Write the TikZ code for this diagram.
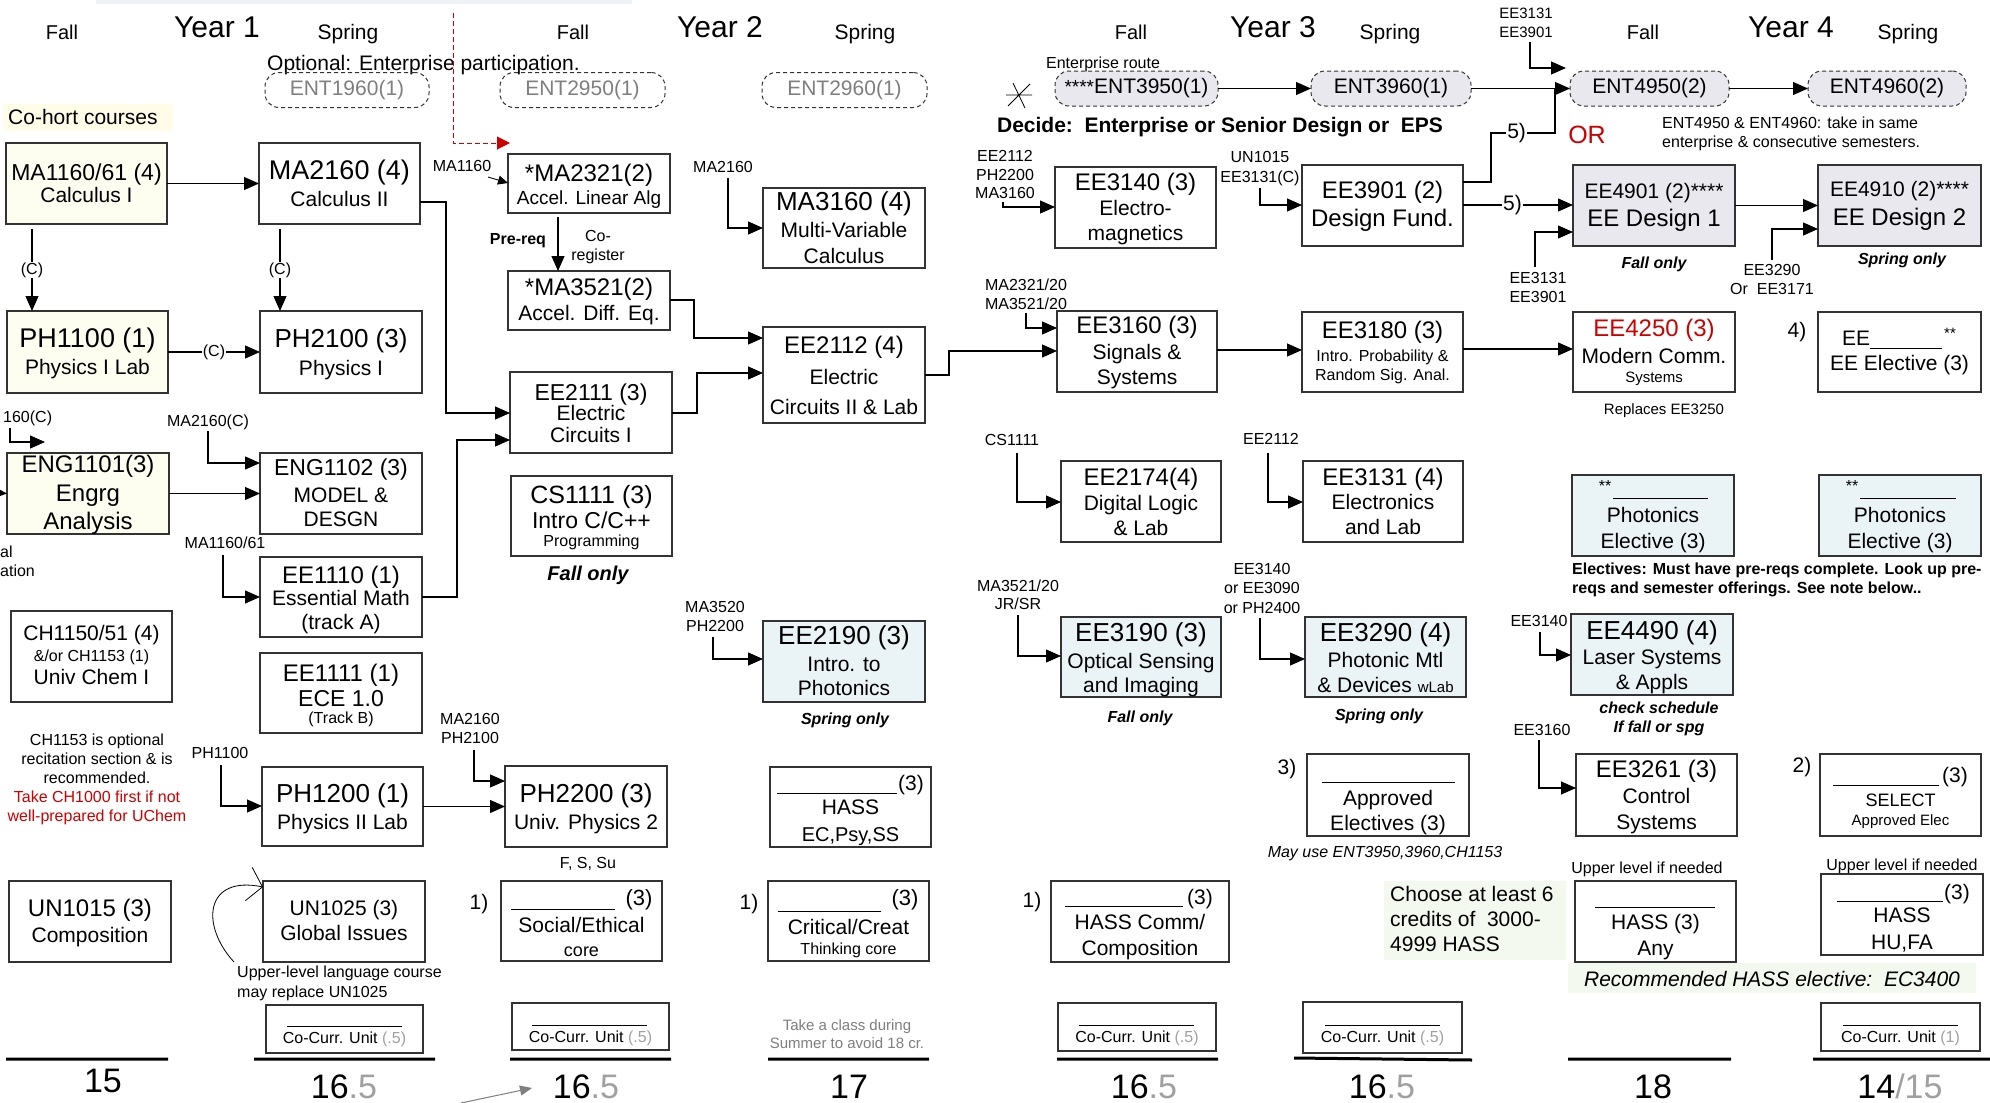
\documentclass[tikz,border=0pt]{standalone}
\usepackage{fontspec}
\setmainfont{Liberation Sans}
\usetikzlibrary{arrows.meta,calc}
\definecolor{cream}{HTML}{FEFEF0}
\definecolor{lblue}{HTML}{EAF3F6}
\definecolor{lav}{HTML}{E9E8EF}
\definecolor{lgreen}{HTML}{F3F9EE}
\definecolor{cohort}{HTML}{FFFDE8}
\definecolor{myred}{HTML}{CC0000}
\definecolor{gtext}{HTML}{7F7F7F}
\definecolor{lgray}{HTML}{A0A0A0}
\definecolor{boxline}{HTML}{333333}
\definecolor{topbar}{HTML}{EEF2F7}
\newcounter{tn}
\newcommand\T[5][]{\stepcounter{tn}\edef\tname{t\arabic{tn}}\node[anchor=base,inner sep=0pt,#1] (\tname) at (#2,{#3+0.358*#4}) {\fontsize{#4}{#4}\selectfont #5};}
\newcommand\B[6][]{\node[box,minimum width={(#5-#3)*1pt},minimum height={(#6-#4)*1pt},#1] (#2) at ({(#3+#5)/2},{(#4+#6)/2}) {};}
\tikzset{
 box/.style={draw=boxline,line width=1.2pt,inner sep=0pt,outer sep=0pt,fill=white},
 ent/.style={draw=boxline,dash pattern=on 4pt off 3pt,line width=1pt,rounded corners=14pt,inner sep=0pt,outer sep=0pt,minimum height=35pt,font=\fontsize{21}{21}\selectfont},
 arr/.style={-{Triangle[length=15pt,width=13pt]},line width=1.1pt},
 sarr/.style={-{Triangle[length=10pt,width=9pt]},line width=0.9pt},
 ln/.style={line width=1.1pt},
 uln/.style={line width=1pt},
 tot/.style={line width=3pt},
 cl/.style={fill=white,inner sep=1pt,font=\fontsize{16}{16}\selectfont},
 bi/.style={font=\bfseries\itshape}
}
\begin{document}
\begin{tikzpicture}[x=1pt,y=-1pt]
\useasboundingbox (0,0) rectangle (1990,1103);
\fill[white] (0,0) rectangle (1990,1103);
\fill[topbar] (96,0) rectangle (632,4);
% headers
\T{62}{32}{20}{Fall}\T{217}{27}{30}{Year 1}\T{348}{32}{21}{Spring}
\T{573}{32}{20}{Fall}\T{720}{27}{30}{Year 2}\T{865}{32}{21}{Spring}
\T{1131}{32}{20}{Fall}\T{1273}{27}{30}{Year 3}\T{1390}{32}{21}{Spring}
\T{1643}{32}{20}{Fall}\T{1791}{27}{30}{Year 4}\T{1908}{32}{21}{Spring}
\T[anchor=base west]{267}{63}{21}{Optional: Enterprise participation.}
\fill[cohort] (3,104) rectangle (173,131);
\T[anchor=base west]{8}{117}{21}{Co-hort courses}
% enterprise
\node[ent,minimum width=164pt,text=gtext] (ENT1960) at (347,90) {ENT1960(1)};
\node[ent,minimum width=165pt,text=gtext] (ENT2950) at (582.5,90) {ENT2950(1)};
\node[ent,minimum width=165pt,text=gtext] (ENT2960) at (844.5,90) {ENT2960(1)};
\node[ent,minimum width=163pt,fill=lav] (ENT3950) at (1136.5,88.5) {{\fontsize{19}{19}\selectfont ****}ENT3950(1)};
\node[ent,minimum width=160pt,fill=lav] (ENT3960) at (1391,88.5) {ENT3960(1)};
\node[ent,minimum width=159pt,fill=lav] (ENT4950) at (1649.5,88.5) {ENT4950(2)};
\node[ent,minimum width=158pt,fill=lav] (ENT4960) at (1887,88.5) {ENT4960(2)};
\T{1103}{63}{16}{Enterprise route}
\draw[line width=0.8pt] (1006,95)--(1032,95) (1008,106)--(1030,84) (1013,83)--(1025,108);
\T[font=\bfseries]{1220}{125}{21}{Decide:\ \ Enterprise or Senior Design or\ \ EPS}
\T[text=myred]{1587}{135}{25}{OR}
\T[anchor=base west]{1662}{123}{16}{ENT4950 \& ENT4960: take in same}
\T[anchor=base west]{1662}{142}{16}{enterprise \& consecutive semesters.}
% ---- Year 1 Fall
\B[fill=cream]{MA1160}{6}{143}{167}{224}
\T{86.5}{172}{23}{MA1160/61 (4)}\T{86.5}{195}{21}{Calculus I}
\B[fill=cream]{PH1100}{7}{311}{168}{393}
\T{87.5}{338}{27}{PH1100 (1)}\T{87.5}{367}{21}{Physics I Lab}
\B[fill=cream]{ENG1101}{7}{453}{169}{534}
\T{88}{464}{24}{ENG1101(3)}\T{88}{493}{24}{Engrg}\T{88}{521}{24}{Analysis}
\B{CH1150}{11}{611}{172}{702}
\T{91.5}{633}{21}{CH1150/51 (4)}\T{91.5}{656}{16}{\&/or CH1153 (1)}\T{91.5}{677}{21}{Univ Chem I}
\B{UN1015}{9}{881}{171}{962}
\T{90}{908}{24}{UN1015 (3)}\T{90}{935}{21}{Composition}
\T[anchor=base west]{3}{417}{16}{160(C)}
\T[anchor=base west]{0}{552}{16}{al}
\T[anchor=base west]{0}{571}{16}{ation}
\T{97}{740}{16}{CH1153 is optional}
\T{97}{759}{16}{recitation section \& is}
\T{97}{778}{16}{recommended.}
\T[text=myred]{97}{797}{16}{Take CH1000 first if not}
\T[text=myred]{97}{816}{16}{well-prepared for UChem}
% ---- Year 1 Spring
\B{MA2160}{259}{143}{420}{224}
\T{339.5}{170}{27}{MA2160 (4)}\T{339.5}{199}{21}{Calculus II}
\B{PH2100}{260}{311}{422}{393}
\T{341}{338}{26}{PH2100 (3)}\T{341}{368}{21}{Physics I}
\B{ENG1102}{260}{453}{422}{534}
\T{341}{467}{23}{ENG1102 (3)}\T{341}{495}{21}{MODEL \&}\T{341}{519}{21}{DESGN}
\B{EE1110}{260}{557}{422}{637}
\T{341}{575}{24}{EE1110 (1)}\T{341}{598}{21}{Essential Math}\T{341}{622}{21}{(track A)}
\B{EE1111}{260}{653}{422}{733}
\T{341}{673}{24}{EE1111 (1)}\T{341}{698}{23}{ECE 1.0}\T{341}{718}{16}{(Track B)}
\B{PH1200}{262}{767}{423}{846}
\T{342.5}{793}{26}{PH1200 (1)}\T{342.5}{822}{21}{Physics II Lab}
\B{UN1025}{263}{881}{425}{962}
\T{344}{908}{21}{UN1025 (3)}\T{344}{933}{21}{Global Issues}
\T[anchor=base west]{237}{972}{16}{Upper-level language course}
\T[anchor=base west]{237}{992}{16}{may replace UN1025}
\B{CC2}{266}{1005}{423}{1053}
\draw[uln] (287,1026)--(402,1026);
\T{344.5}{1038}{16}{Co-Curr. Unit {\color{lgray}(.5)}}
\T{220}{753}{16}{PH1100}
\T{208}{421}{16}{MA2160(C)}
\T{225}{543}{16}{MA1160/61}
% ---- Year 2 Fall
\B{MA2321}{508}{154}{670}{213}
\T{589}{173}{24}{*MA2321(2)}\T{589}{198}{19}{Accel. Linear Alg}
\B{MA3521}{508}{271}{670}{330}
\T{589}{287}{24}{*MA3521(2)}\T{589}{313}{21}{Accel. Diff. Eq.}
\B{EE2111}{510}{372}{672}{453}
\T{591}{392}{23}{EE2111 (3)}\T{591}{413}{21}{Electric}\T{591}{435}{21}{Circuits I}
\B{CS1111}{511}{476}{672}{556}
\T{591.5}{495}{25}{CS1111 (3)}\T{591.5}{520}{23}{Intro C/C++}\T{591.5}{541}{16}{Programming}
\T[bi]{588}{573}{20}{Fall only}
\B{PH2200}{505}{766}{667}{847}
\T{586}{793}{26}{PH2200 (3)}\T{586}{822}{21}{Univ. Physics 2}
\T{588}{863}{16}{F, S, Su}
\B{SocEth}{501}{881}{662}{961}
\draw[uln] (511,909)--(615,909);
\T{639}{898}{22}{(3)}\T{581.5}{925}{21}{Social/Ethical}\T{581.5}{950}{18}{core}
\T{479}{902}{21}{1)}
\B{CC3}{512}{1003}{669}{1050}
\draw[uln] (532,1025)--(647,1025);
\T{590.5}{1037}{16}{Co-Curr. Unit {\color{lgray}(.5)}}
\T{462}{166}{16}{MA1160}
\T[font=\bfseries]{518}{239}{16}{Pre-req}
\T{598}{236}{16}{Co-}\T{598}{255}{16}{register}
\T{470}{719}{16}{MA2160}\T{470}{738}{16}{PH2100}
% ---- Year 2 Spring
\B{MA3160}{763}{188}{925}{268}
\T{844}{201}{26}{MA3160 (4)}\T{844}{230}{21}{Multi-Variable}\T{844}{256}{21}{Calculus}
\B{EE2112}{763}{327}{925}{423}
\T{844}{345}{24}{EE2112 (4)}\T{844}{377}{21}{Electric}\T{844}{407}{21}{Circuits II \& Lab}
\B[fill=lblue]{EE2190}{763}{621}{925}{702}
\T{844}{635}{26}{EE2190 (3)}\T{844}{664}{21}{Intro. to}\T{844}{688}{21}{Photonics}
\T[bi]{845}{719}{16}{Spring only}
\B{HASS1}{770}{767}{931}{847}
\draw[uln] (777,793)--(897,793);
\T{911}{783}{21}{(3)}\T{850.5}{807}{21}{HASS}\T{850.5}{834}{20}{EC,Psy,SS}
\B{CritCr}{768}{881}{929}{961}
\draw[uln] (778,911)--(881,911);
\T{905}{898}{22}{(3)}\T{848.5}{927}{21}{Critical/Creat}\T{848.5}{949}{16}{Thinking core}
\T{749}{902}{21}{1)}
\T[text=gtext]{847}{1025}{15}{Take a class during}
\T[text=gtext]{847}{1043}{15}{Summer to avoid 18 cr.}
\T{723}{167}{16}{MA2160}
\T{715}{607}{16}{MA3520}\T{715}{626}{16}{PH2200}
% ---- Year 3 Fall
\B{EE3140}{1055}{167}{1216}{248}
\T{1135.5}{182}{24}{EE3140 (3)}\T{1135.5}{208}{21}{Electro-}\T{1135.5}{233}{21}{magnetics}
\B{EE3160}{1057}{311}{1217}{392}
\T{1137}{325}{24}{EE3160 (3)}\T{1137}{352}{21}{Signals \&}\T{1137}{377}{21}{Systems}
\B{EE2174}{1061}{461}{1221}{542}
\T{1141}{477}{24}{EE2174(4)}\T{1141}{503}{21}{Digital Logic}\T{1141}{528}{21}{\& Lab}
\B[fill=lblue]{EE3190}{1061}{617}{1221}{697}
\T{1141}{632}{26}{EE3190 (3)}\T{1141}{661}{21}{Optical Sensing}\T{1141}{685}{21}{and Imaging}
\T[bi]{1140}{717}{16}{Fall only}
\B{HASSC}{1051}{881}{1229}{962}
\draw[uln] (1065,906)--(1183,906);
\T{1200}{897}{21}{(3)}\T{1140}{922}{21}{HASS Comm/}\T{1140}{948}{21}{Composition}
\T{1032}{900}{21}{1)}
\B{CC5}{1058}{1003}{1216}{1051}
\draw[uln] (1079,1025)--(1194,1025);
\T{1137}{1037}{16}{Co-Curr. Unit {\color{lgray}(.5)}}
\T{1005}{156}{16}{EE2112}\T{1005}{175}{16}{PH2200}\T{1005}{193}{16}{MA3160}
\T{1026}{285}{16}{MA2321/20}\T{1026}{304}{16}{MA3521/20}
\T{1012}{440}{16}{CS1111}
\T{1018}{586}{16}{MA3521/20}\T{1018}{604}{16}{JR/SR}
% ---- Year 3 Spring
\B{EE3901}{1302}{165}{1463}{246}
\T{1382.5}{190}{24}{EE3901 (2)}\T{1382.5}{218}{24}{Design Fund.}
\B{EE3180}{1302}{312}{1463}{392}
\T{1382.5}{330}{24}{EE3180 (3)}\T{1382.5}{356}{16}{Intro. Probability \&}\T{1382.5}{375}{16}{Random Sig. Anal.}
\B{EE3131}{1303}{461}{1463}{542}
\T{1383}{477}{24}{EE3131 (4)}\T{1383}{502}{21}{Electronics}\T{1383}{527}{21}{and Lab}
\B[fill=lblue]{EE3290}{1305}{617}{1466}{697}
\T{1385.5}{632}{26}{EE3290 (4)}\T{1385.5}{660}{21}{Photonic Mtl}\T{1385.5}{685}{21}{\& Devices {\fontsize{15}{15}\selectfont wLab}}
\T[bi]{1379}{715}{16}{Spring only}
\B{Approved}{1307}{754}{1469}{836}
\draw[uln] (1322,782)--(1455,782);
\T{1388}{798}{21}{Approved}\T{1388}{823}{21}{Electives (3)}
\T{1287}{767}{21}{3)}
\T[font=\itshape]{1385}{852}{16}{May use ENT3950,3960,CH1153}
\fill[lgreen] (1384,881) rectangle (1566,960);
\T[anchor=base west]{1390}{894}{21}{Choose at least 6}
\T[anchor=base west]{1390}{919}{21}{credits of\ \ 3000-}
\T[anchor=base west]{1390}{944}{21}{4999 HASS}
\B{CC6}{1303}{1002}{1462}{1053}
\draw[uln] (1325,1025)--(1440,1025);
\T{1382.5}{1037}{16}{Co-Curr. Unit {\color{lgray}(.5)}}
\T{1260}{157}{16}{UN1015}\T{1260}{177}{16}{EE3131(C)}
\T{1271}{439}{16}{EE2112}
\T{1262}{569}{16}{EE3140}\T{1262}{588}{16}{or EE3090}\T{1262}{608}{16}{or PH2400}
% ---- Year 4 Fall
\B[fill=lav]{EE4901}{1573}{165}{1735}{246}
\T{1654}{191}{21}{EE4901 (2)****}\T{1654}{218}{24}{EE Design 1}
\T[bi]{1654}{263}{16}{Fall only}
\B{EE4250}{1573}{312}{1735}{392}
\T[text=myred]{1654}{328}{24}{EE4250 (3)}\T{1654}{356}{21}{Modern Comm.}\T{1654}{377}{15}{Systems}
\T{1664}{409}{15}{Replaces EE3250}
\B[fill=lblue]{Phot1}{1572}{475}{1734}{556}
\T{1605}{486}{16}{**}\draw[uln] (1613,498)--(1708,498);
\T{1653}{515}{21}{Photonics}\T{1653}{541}{21}{Elective (3)}
\T[font=\bfseries,anchor=base west]{1572}{569}{16}{Electives: Must have pre-reqs complete. Look up pre-}
\T[font=\bfseries,anchor=base west]{1572}{588}{16}{reqs and semester offerings. See note below..}
\B[fill=lblue]{EE4490}{1571}{614}{1733}{695}
\T{1652}{630}{26}{EE4490 (4)}\T{1652}{657}{21}{Laser Systems}\T{1652}{682}{21}{\& Appls}
\T[bi]{1659}{708}{16}{check schedule}\T[bi]{1659}{727}{16}{If fall or spg}
\B{EE3261}{1576}{754}{1737}{836}
\T{1656.5}{769}{24}{EE3261 (3)}\T{1656.5}{796}{21}{Control}\T{1656.5}{822}{21}{Systems}
\T{1647}{868}{16}{Upper level if needed}
\B{HASSA}{1575}{881}{1736}{962}
\draw[uln] (1595,907)--(1715,907);
\T{1655.5}{922}{21}{HASS (3)}\T{1655.5}{948}{21}{Any}
\fill[lgreen] (1568,963) rectangle (1976,993);
\T[font=\itshape]{1772}{979}{21}{Recommended HASS elective:\ \ EC3400}
\T{1526}{13}{15}{EE3131}\T{1526}{32}{15}{EE3901}
\T{1538}{278}{16}{EE3131}\T{1538}{297}{16}{EE3901}
\T{1539}{621}{16}{EE3140}
\T{1542}{730}{16}{EE3160}
% ---- Year 4 Spring
\B[fill=lav]{EE4910}{1818}{165}{1981}{246}
\T{1899.5}{189}{21}{EE4910 (2)****}\T{1899.5}{217}{24}{EE Design 2}
\T[bi]{1902}{259}{16}{Spring only}
\T{1772}{270}{16}{EE3290}\T{1772}{289}{16}{Or\ \ EE3171}
\B{EEel}{1818}{312}{1981}{392}
\T[anchor=base west]{1842}{338}{21}{EE}\draw[uln] (1870,348)--(1942,348);\T{1950}{333}{15}{**}
\T{1899.5}{363}{21}{EE Elective (3)}
\T{1797}{330}{21}{4)}
\B[fill=lblue]{Phot2}{1819}{475}{1981}{556}
\T{1852}{486}{16}{**}\draw[uln] (1860,498)--(1956,498);
\T{1900}{515}{21}{Photonics}\T{1900}{541}{21}{Elective (3)}
\B{SELECT}{1820}{754}{1981}{836}
\draw[uln] (1833,785)--(1939,785);
\T{1955}{775}{21}{(3)}\T{1900.5}{800}{18}{SELECT}\T{1900.5}{820}{15}{Approved Elec}
\T{1802}{765}{21}{2)}
\T{1902}{865}{16}{Upper level if needed}
\B{HASSH}{1821}{874}{1983}{955}
\draw[uln] (1837,901)--(1943,901);
\T{1957}{892}{21}{(3)}\T{1902}{915}{21}{HASS}\T{1902}{942}{21}{HU,FA}
\B{CC8}{1821}{1003}{1980}{1051}
\draw[uln] (1843,1025)--(1958,1025);
\T{1900.5}{1037}{16}{Co-Curr. Unit {\color{lgray}(1)}}
% ---- totals
\draw[tot] (6,1059)--(168,1059) (254,1059)--(435,1059) (510,1059)--(671,1059) (768,1059)--(929,1059)
 (1057,1059)--(1218,1059) (1294,1058)--(1472,1060) (1568,1059)--(1731,1059) (1813,1059)--(1990,1059);
\T{103}{1080}{34}{15}
\T{344}{1086}{34}{16{\color{lgray}.5}}
\T{586}{1086}{34}{16{\color{lgray}.5}}
\T{849}{1086}{34}{17}
\T{1144}{1086}{34}{16{\color{lgray}.5}}
\T{1382}{1086}{34}{16{\color{lgray}.5}}
\T{1653}{1086}{34}{18}
\T{1900}{1086}{34}{14{\color{lgray}/15}}
% ---- connectors
\draw[arr] (MA1160.east) -- (MA2160.west);
\draw[arr] ($(MA1160.south -| 32,0)+(0,5)$) -- node[cl]{(C)} (PH1100.north -| 32,0);
\draw[arr] ($(MA2160.south -| 280,0)+(0,5)$) -- node[cl,pos=0.5]{(C)} (PH2100.north -| 280,0);
\draw[arr] (PH1100.east) -- node[cl]{(C)} (PH2100.west);
\draw[arr] (MA2160.east |- 0,202) -- (446,202) |- (EE2111.west |- 0,413);
\draw[arr] (EE1110.east |- 0,597) -- (457,597) |- (EE2111.west |- 0,440);
\draw[arr] ($(MA2321.south -| 558,0)+(0,4)$) -- (MA3521.north -| 558,0);
\draw[arr] (MA3521.east |- 0,300) -- (694,300) |- (EE2112.west |- 0,338);
\draw[arr] (EE2111.east |- 0,413) -- (697,413) |- (EE2112.west |- 0,373);
\draw[arr] (728,178) |- (MA3160.west |- 0,228);
\draw[sarr] (488,177) -- (MA2321.west |- 0,183);
\draw[arr] (ENG1101.east) -- (ENG1102.west);
\draw[arr] (0,493) -- (ENG1101.west);
\draw[arr] (10,428) |- (45,442);
\draw[arr] (208,431) |- (ENG1102.west |- 0,463);
\draw[arr] (223,555) |- (EE1110.west |- 0,597);
\draw[arr] (221,765) |- (PH1200.west |- 0,806);
\draw[arr] (PH1200.east) -- (PH2200.west);
\draw[arr] (474,750) |- (PH2200.west |- 0,781);
\draw[arr] (713,637) |- (EE2190.west |- 0,659);
\draw[arr] (1003,202) -- (1003,207) -- (EE3140.west |- 0,207);
\draw[arr] (1260,188) |- (EE3901.west |- 0,205);
\draw[arr] (1026,313) |- (EE3160.west |- 0,328);
\draw[arr] (EE2112.east |- 0,375) -- (949,375) |- (EE3160.west |- 0,351);
\draw[arr] (EE3160.east |- 0,350) -- (EE3180.west |- 0,350);
\draw[arr] (EE3180.east |- 0,349) -- (EE4250.west |- 0,349);
\draw[arr] (ENT3950.east) -- (ENT3960.west);
\draw[arr] (ENT3960.east) -- (ENT4950.west);
\draw[ln] (EE3901.east |- 0,182) -- (1491,182) -- (1491,133) -- node[cl,pos=0.4]{\fontsize{21}{21}\selectfont 5)} (1555,133) -- (1555,88);
\draw[arr] (EE3901.east |- 0,205) -- node[cl,pos=0.45]{\fontsize{21}{21}\selectfont 5)} (EE4901.west |- 0,205);
\draw[arr] (1530,42) |- (1566,68);
\draw[arr] (ENT4950.east) -- (ENT4960.west);
\draw[arr] (EE4901.east) -- (EE4910.west);
\draw[arr] (1535,267) |- (EE4901.west |- 0,232);
\draw[arr] (1772,260) |- (EE4910.west |- 0,229);
\draw[arr] (1017,453) |- (EE2174.west |- 0,502);
\draw[arr] (1268,453) |- (EE3131.west |- 0,502);
\draw[arr] (1018,615) |- (EE3190.west |- 0,656);
\draw[arr] (1260,618) |- (EE3290.west |- 0,659);
\draw[arr] (1540,632) |- (EE4490.west |- 0,655);
\draw[arr] (1539,740) |- (EE3261.west |- 0,788);
\draw[myred,line width=1pt,dash pattern=on 5pt off 3pt,-{Triangle[length=13pt,width=13pt]}] (453,13) |- (510,143);
\draw[gray,line width=1pt,-{Triangle[length=12pt,width=10pt]}] (461,1103) -- (532,1088);
\draw[line width=0.8pt,-{Straight Barb[length=14pt,width=34pt,line width=0.8pt]}] (234,962) .. controls (200,925) and (205,875) .. ($(UN1025.north west)+(0,6)$);
\end{tikzpicture}
\end{document}
